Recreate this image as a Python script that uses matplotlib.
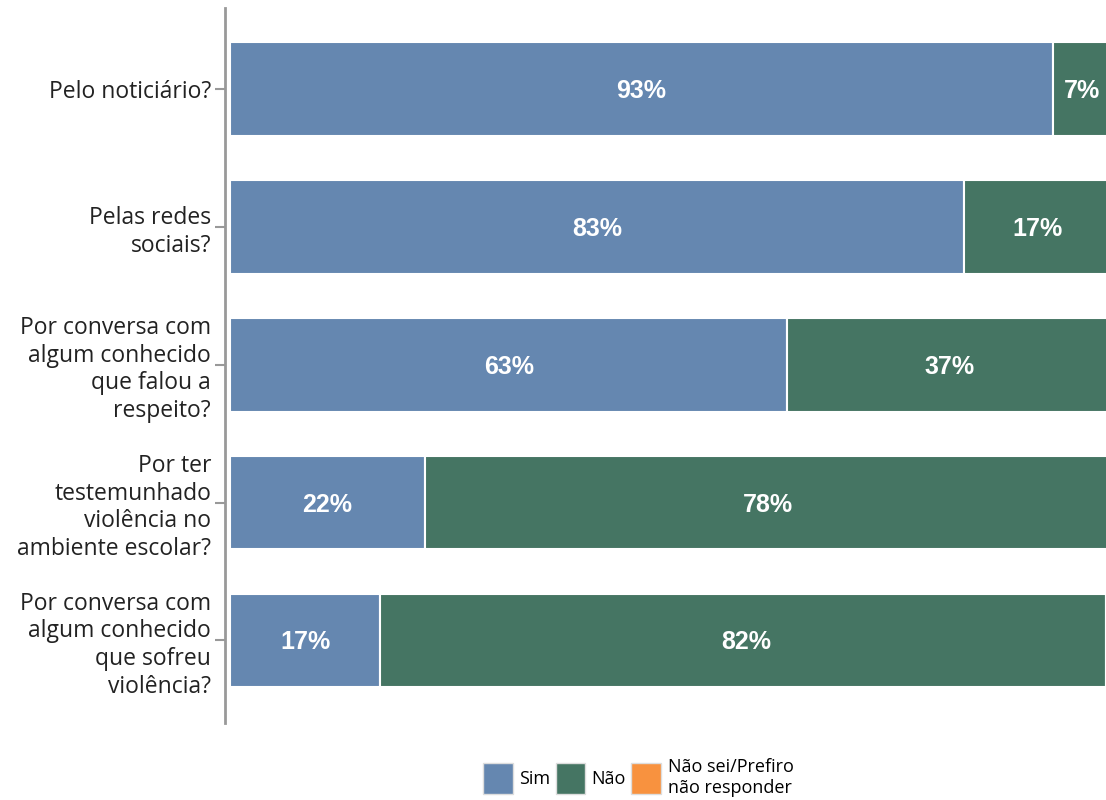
import matplotlib
matplotlib.use("Agg")
import matplotlib.pyplot as plt
from matplotlib.patches import Patch

categories = [
    "Pelo noticiário?",
    "Pelas redes\nsociais?",
    "Por conversa com\nalgum conhecido\nque falou a\nrespeito?",
    "Por ter\ntestemunhado\nviolência no\nambiente escolar?",
    "Por conversa com\nalgum conhecido\nque sofreu\nviolência?",
]
sim = [93, 83, 63, 22, 17]
nao = [7, 17, 37, 78, 82]
nao_sei = [0, 0, 0, 0, 0]
series_names = ["Sim", "Não", "Não sei/Prefiro\nnão responder"]
colors = ["#6587b0", "#457563", "#f8923f"]

XMAX = 99.0

fig = plt.figure(figsize=(11.06, 8), dpi=100)
ax = fig.add_axes([225/1106, 1-723/800, 1-225/1106, (723-8)/800])

y = list(range(len(categories)))
h = 0.68
ax.barh(y, sim, height=h, color=colors[0], edgecolor="white", linewidth=1.5)
ax.barh(y, nao, left=sim, height=h, color=colors[1], edgecolor="white", linewidth=1.5)
left3 = [a + b for a, b in zip(sim, nao)]
ax.barh(y, nao_sei, left=left3, height=h, color=colors[2], edgecolor="white", linewidth=1.5)

for i in y:
    ax.text(sim[i] / 2, i + 0.015, f"{sim[i]}%", ha="center", va="center", color="white",
            fontsize=18, fontweight="bold", family="Liberation Sans")
    end = min(sim[i] + nao[i], XMAX)
    ax.text((sim[i] + end) / 2 + 0.3, i + 0.015, f"{nao[i]}%", ha="center", va="center",
            color="white", fontsize=18, fontweight="bold", family="Liberation Sans")

ax.set_xlim(-0.57, XMAX)
ax.set_ylim(4.6, -0.59)
ax.set_yticks(y)
ax.set_yticklabels(categories, fontsize=16.5, family="Open Sans", color="#222222",
                   linespacing=1.2)
ax.set_xticks([])
for s in ["top", "right", "bottom"]:
    ax.spines[s].set_visible(False)
ax.spines["left"].set_color("#999999")
ax.spines["left"].set_linewidth(2)
ax.tick_params(axis="y", length=7, width=1.5, color="#999999", pad=3)

handles = [Patch(facecolor=c, edgecolor="#dddddd") for c in colors]
fig.legend(handles, series_names, loc="lower center", bbox_to_anchor=(0.577, -0.016),
           ncol=3, frameon=False, handlelength=1.65, handleheight=2.3,
           handletextpad=0.35, columnspacing=0.3,
           prop={"family": "Open Sans", "size": 13})

fig.savefig("out.png", dpi=100)
